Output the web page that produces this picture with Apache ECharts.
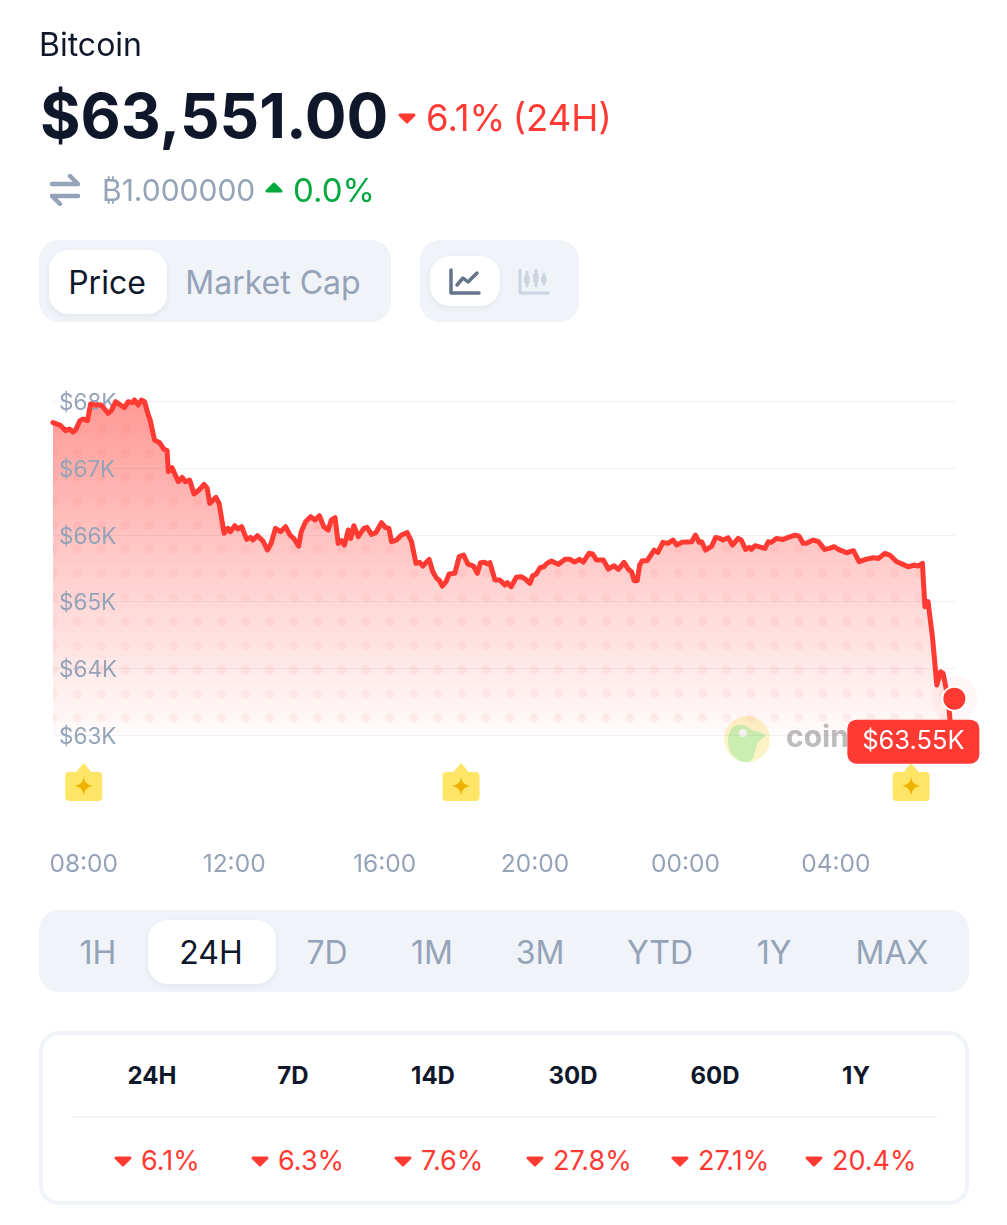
<!DOCTYPE html>
<html>
<head>
<meta charset="utf-8">
<script src="https://cdn.jsdelivr.net/npm/echarts@6/dist/echarts.min.js"></script>
<style>
  html, body { margin: 0; padding: 0; background: #fff; }
  body { position: relative; width: 1007px; height: 1225px; overflow: hidden; font-family: Inter, sans-serif; color: #0f172a; }
  #chart { position: absolute; left: 0; top: 0; width: 1007px; height: 900px; }
  .abs { position: absolute; white-space: nowrap; line-height: 1; }
  .center { transform: translate(-50%, -50%); }
  .middle { transform: translateY(-50%); }
  .panel { position: absolute; background: #f0f3f8; border-radius: 20px; }
  .pill { position: absolute; background: #fff; border-radius: 20px; box-shadow: 0 2px 6px rgba(15, 23, 42, 0.06); }
  .grey { color: #94a3b8; }
  .red { color: #ff3a33; }
  .green { color: #00a83e; }
  #stats { position: absolute; left: 39px; top: 1031px; width: 922px; height: 166px; border: 4px solid #f0f3f8; border-radius: 20px; }
  #statsLine { position: absolute; left: 73px; top: 1116px; width: 864px; height: 2px; background: #f0f3f8; }
</style>
</head>
<body>
<div id="chart"></div>

<div class="abs middle" style="left:39px;top:45px;font-size:32px">Bitcoin</div>
<div class="abs middle" style="left:40px;top:116px;font-size:62px;font-weight:700">$63,551.00</div>
<svg class="abs" style="left:398px;top:113px" width="18" height="11"><path d="M2 2H16L9 9Z" fill="#ff3a33" stroke="#ff3a33" stroke-width="3" stroke-linejoin="round"/></svg>
<div class="abs middle red" style="left:426px;top:118px;font-size:36.5px;word-spacing:-3px">6.1% (24H)</div>

<svg class="abs" style="left:50px;top:174px" width="30" height="32" fill="none" stroke="#94a3b8" stroke-width="4.5" stroke-linecap="round" stroke-linejoin="round"><path d="M2 10H28L20 2M28 22H2L10 30"/></svg>
<div class="abs middle grey" style="left:102px;top:190px;font-size:30px">₿1.000000</div>
<svg class="abs" style="left:265px;top:182px" width="18" height="11"><path d="M2 9H16L9 2Z" fill="#00a83e" stroke="#00a83e" stroke-width="3" stroke-linejoin="round"/></svg>
<div class="abs middle green" style="left:293px;top:190px;font-size:33px">0.0%</div>

<div class="panel" style="left:39px;top:240px;width:352px;height:82px"></div>
<div class="pill" style="left:49px;top:250px;width:118px;height:64px"></div>
<div class="abs center" style="left:107px;top:283px;font-size:32px">Price</div>
<div class="abs center grey" style="left:273px;top:283px;font-size:32px">Market Cap</div>

<div class="panel" style="left:420px;top:240px;width:159px;height:82px"></div>
<div class="pill" style="left:430px;top:256px;width:70px;height:50px"></div>
<svg class="abs" style="left:449px;top:268px" width="32" height="28" fill="none" stroke="#64748b" stroke-width="3.5" stroke-linecap="round" stroke-linejoin="round"><path d="M2 2V25H30M8 17L14 10L19 14L28 5"/></svg>
<svg class="abs" style="left:518px;top:268px" width="32" height="28" fill="none" stroke="#cbd5e1" stroke-width="3" stroke-linecap="round" stroke-linejoin="round"><path d="M2 2V25H30M9 4V18M18 2V18M26 6V16"/><path d="M7 8H11V15H7ZM16 6H20V14H16ZM24 9H28V14H24Z" fill="#cbd5e1" stroke-width="1"/></svg>

<div class="panel" style="left:39px;top:910px;width:930px;height:82px"></div>
<div class="pill" style="left:148px;top:920px;width:128px;height:64px"></div>
<div id="ranges"></div>

<div id="stats"></div>
<div id="statsLine"></div>
<div id="statCells"></div>

<script>
// minutes since midnight of the first day
const times = [
  431, 442, 451, 457, 463, 467, 474, 479, 486, 491, 498, 508, 519, 524, 531, 537, 545, 551, 558, 561,
  567, 572, 577, 583, 586, 593, 601, 608, 613, 615, 621, 631, 637, 642, 649, 656, 664, 672, 677, 681,
  691, 696, 704, 710, 714, 721, 726, 732, 740, 746, 750, 757, 766, 773, 779, 786, 794, 802, 809, 815,
  823, 827, 834, 842, 849, 856, 863, 870, 875, 881, 886, 891, 896, 902, 906, 911, 918, 921, 927, 932,
  939, 946, 955, 961, 967, 971, 979, 987, 996, 1003, 1010, 1016, 1021, 1031, 1037, 1043, 1047, 1052, 1058, 1063,
  1072, 1079, 1086, 1093, 1102, 1108, 1113, 1120, 1124, 1128, 1136, 1144, 1146, 1152, 1156, 1162, 1170, 1178, 1185, 1192,
  1196, 1202, 1208, 1214, 1219, 1226, 1237, 1248, 1256, 1263, 1271, 1277, 1286, 1292, 1298, 1309, 1317, 1326, 1333, 1342,
  1349, 1354, 1358, 1363, 1367, 1371, 1379, 1390, 1396, 1404, 1412, 1420, 1426, 1434, 1450, 1456, 1462, 1466, 1472, 1482,
  1488, 1495, 1500, 1508, 1515, 1524, 1529, 1536, 1542, 1545, 1551, 1567, 1572, 1577, 1585, 1596, 1604, 1615, 1621, 1628,
  1633, 1644, 1652, 1662, 1670, 1677, 1684, 1687, 1697, 1708, 1717, 1729, 1740, 1748, 1758, 1766, 1777, 1787, 1795, 1806,
  1811, 1818, 1822, 1827, 1834, 1841, 1847, 1851, 1859, 1863
];
const prices = [
  67676, 67641, 67557, 67581, 67537, 67567, 67706, 67731, 67706, 67955, 67940, 67940, 67816, 67856, 67990, 67950, 67900, 67990, 67975, 68015,
  67940, 68015, 67990, 67791, 67716, 67417, 67377, 67278, 67258, 66944, 67003, 66794, 66859, 66794, 66819, 66610, 66670, 66754, 66695, 66470,
  66560, 66470, 66022, 66097, 66047, 66136, 66087, 66121, 65932, 65962, 65922, 65987, 65907, 65773, 65872, 66097, 66047, 66121, 65997, 65947,
  65832, 66047, 66196, 66271, 66221, 66286, 66121, 66072, 66221, 66256, 65872, 65912, 65847, 66072, 65947, 66136, 65972, 65982, 66096, 66111,
  66007, 66032, 66181, 66111, 66096, 65897, 65922, 65997, 66032, 65897, 65573, 65588, 65533, 65633, 65449, 65349, 65324, 65234, 65299, 65414,
  65424, 65673, 65698, 65563, 65533, 65424, 65583, 65588, 65563, 65583, 65324, 65324, 65349, 65249, 65284, 65224, 65364, 65374, 65334, 65274,
  65384, 65414, 65508, 65523, 65573, 65608, 65558, 65633, 65633, 65593, 65633, 65593, 65723, 65713, 65623, 65623, 65488, 65538, 65484, 65588,
  65484, 65449, 65314, 65314, 65548, 65613, 65613, 65772, 65737, 65887, 65872, 65922, 65847, 65887, 65897, 65996, 65887, 65897, 65772, 65832,
  65961, 65946, 65922, 65956, 65847, 65946, 65922, 65782, 65812, 65782, 65837, 65797, 65897, 65887, 65946, 65931, 65961, 65996, 65981, 65872,
  65872, 65922, 65897, 65782, 65797, 65822, 65782, 65797, 65732, 65762, 65598, 65637, 65657, 65647, 65722, 65697, 65598, 65558, 65523, 65548,
  65533, 65573, 64925, 65000, 64476, 63754, 63953, 63928, 63555, 63131
];
const lastPoint = [1869, 63551];
const lastLabel = "$63.55K";
const eventTimes = [480, 1082, 1800];
const xTicks = [480, 720, 960, 1200, 1440, 1680];
const ranges = ["1H", "24H", "7D", "1M", "3M", "YTD", "1Y", "MAX"];
const rangeCenters = [98, 211, 327, 432, 540, 660, 774, 892];
const statPeriods = ["24H", "7D", "14D", "30D", "60D", "1Y"];
const statCenters = [152, 293, 433, 573, 715, 856];
const statChanges = ["6.1%", "6.3%", "7.6%", "27.8%", "27.1%", "20.4%"];
const statLefts = [114, 251, 394, 526, 671, 805];

const RED = "#ff3a33";
const BADGE = "path://M11 9L18.5 0L26 9H33Q37 9 37 13V34Q37 38 33 38H4Q0 38 0 34V13Q0 9 4 9Z";
const STAR = "path://M9 0Q10 8 18 9Q10 10 9 18Q8 10 0 9Q8 8 9 0Z";

const dotPattern = () => {
  const c = document.createElement("canvas");
  c.width = 1007;
  c.height = 900;
  const ctx = c.getContext("2d");
  ctx.fillStyle = "rgba(255, 58, 51, 0.06)";
  for (let y = 429.3 - 24.05; y < 730; y += 24.05) {
    for (let x = 53.3; x < 960; x += 24.05) {
      ctx.beginPath();
      ctx.arc(x, y, 4.5, 0, Math.PI * 2);
      ctx.fill();
    }
  }
  return c;
};

const clockLabel = (m) => {
  const h = Math.floor(m / 60) % 24;
  return String(h).padStart(2, "0") + ":" + String(m % 60).padStart(2, "0");
};

const getOption = () => {
  const line = times.map((t, i) => [t, prices[i]]);
  return {
    animation: false,
    grid: [
      { left: 53, top: 401, width: 902, height: 334.5 },
      { left: 53, top: 763, width: 902, height: 38 },
    ],
    xAxis: [
      {
        type: "value",
        min: 431,
        max: 1870,
        show: false,
      },
      {
        type: "value",
        gridIndex: 1,
        min: 431,
        max: 1870,
        axisLine: { show: false },
        axisTick: { show: false },
        splitLine: { show: false },
        axisLabel: {
          customValues: xTicks,
          formatter: clockLabel,
          margin: 51,
          color: "#94a3b8",
          fontFamily: "Inter",
          fontSize: 24.5,
        },
      },
    ],
    yAxis: [
      {
        type: "value",
        min: 63000,
        max: 68000,
        interval: 1000,
        z: 2,
        axisLine: { show: false },
        axisTick: { show: false },
        splitLine: { lineStyle: { color: "rgba(120, 120, 160, 0.1)", width: 1 } },
        axisLabel: {
          inside: true,
          margin: 6,
          formatter: (v) => "{t|$" + v / 1000 + "K}",
          rich: {
            t: {
              padding: [4, 0, 0, 0],
              color: "#94a3b8",
              fontFamily: "Inter",
              fontSize: 22.5,
            },
          },
        },
      },
      {
        type: "value",
        gridIndex: 1,
        min: 0,
        max: 1,
        show: false,
      },
    ],
    graphic: [
      { type: "circle", z: 1, shape: { cx: 747, cy: 739, r: 23 }, style: { fill: "#fdf3c7" } },
      {
        type: "polygon",
        z: 1,
        shape: {
          smooth: 0.3,
          points: [[728, 739], [733, 727], [744, 725], [752, 730], [765, 735], [758, 743], [751, 761], [740, 761], [731, 753]],
        },
        style: { fill: "#c9eeb0" },
      },
      { type: "circle", z: 1, shape: { cx: 743, cy: 733, r: 4 }, style: { fill: "#f4f4f4" } },
      { type: "text", z: 1, style: { x: 786, y: 738, text: "coin", fill: "#bdbdbd", font: "700 30px Inter", verticalAlign: "middle" } },
    ],
    series: [
      {
        name: "Area",
        type: "line",
        data: line,
        showSymbol: false,
        silent: true,
        z: 1,
        lineStyle: { width: 0 },
        areaStyle: {
          opacity: 1,
          color: {
            type: "linear",
            x: 0,
            y: 0,
            x2: 0,
            y2: 1,
            colorStops: [
              { offset: 0, color: "rgba(255, 58, 51, 0.52)" },
              { offset: 0.6, color: "rgba(255, 58, 51, 0.2)" },
              { offset: 1, color: "rgba(255, 58, 51, 0.02)" },
            ],
          },
        },
      },
      {
        name: "Dots",
        type: "line",
        data: line,
        showSymbol: false,
        silent: true,
        z: 1,
        lineStyle: { width: 0 },
        areaStyle: { color: { image: dotPattern(), repeat: "repeat" }, opacity: 1 },
      },
      {
        name: "Price",
        type: "line",
        data: line,
        showSymbol: false,
        clip: false,
        z: 3,
        lineStyle: { color: RED, width: 5, cap: "round", join: "round" },
      },
      {
        name: "Halo",
        type: "scatter",
        data: [lastPoint],
        symbolSize: 46,
        silent: true,
        z: 3,
        itemStyle: { color: "rgba(255, 58, 51, 0.04)", opacity: 1 },
      },
      {
        name: "Last",
        type: "scatter",
        data: [lastPoint],
        symbolSize: 24,
        z: 4,
        itemStyle: { color: RED, borderColor: "#fff", borderWidth: 2, opacity: 1 },
        label: {
          show: true,
          formatter: lastLabel,
          position: "bottom",
          distance: 8,
          offset: [-41, 0],
          width: 132,
          height: 44,
          lineHeight: 44,
          align: "center",
          verticalAlign: "top",
          backgroundColor: RED,
          borderRadius: 9,
          color: "#fff",
          fontFamily: "Inter",
          fontSize: 25.5,
        },
      },
      {
        name: "Events",
        type: "scatter",
        xAxisIndex: 1,
        yAxisIndex: 1,
        data: eventTimes.map((t) => [t, 0.5]),
        symbol: BADGE,
        symbolSize: [37, 38],
        z: 3,
        itemStyle: { color: "#ffe566", opacity: 1 },
      },
      {
        name: "EventStars",
        type: "scatter",
        xAxisIndex: 1,
        yAxisIndex: 1,
        data: eventTimes.map((t) => [t, 0.5]),
        symbol: STAR,
        symbolSize: 18,
        symbolOffset: [0, 4],
        z: 4,
        itemStyle: { color: "#eeb200", opacity: 1 },
      },
    ],
  };
};

const addText = (parent, html) => {
  document.getElementById(parent).insertAdjacentHTML("beforeend", html);
};

ranges.forEach((r, i) => {
  const cls = r === "24H" ? "" : "grey";
  addText("ranges", `<div class="abs center ${cls}" style="left:${rangeCenters[i]}px;top:953px;font-size:32px">${r}</div>`);
});

statPeriods.forEach((p, i) => {
  addText("statCells", `<div class="abs center" style="left:${statCenters[i]}px;top:1076px;font-size:24px;font-weight:700">${p}</div>`);
  addText("statCells", `<svg class="abs" style="left:${statLefts[i]}px;top:1156px" width="18" height="11"><path d="M2 2H16L9 9Z" fill="#ff3a33" stroke="#ff3a33" stroke-width="3" stroke-linejoin="round"/></svg>`);
  addText("statCells", `<div class="abs middle red" style="left:${statLefts[i] + 27}px;top:1160px;font-size:27px">${statChanges[i]}</div>`);
});

window.addEventListener("load", () => {
  const chart = echarts.init(document.getElementById("chart"));
  chart.setOption(getOption());
});
</script>
</body>
</html>
